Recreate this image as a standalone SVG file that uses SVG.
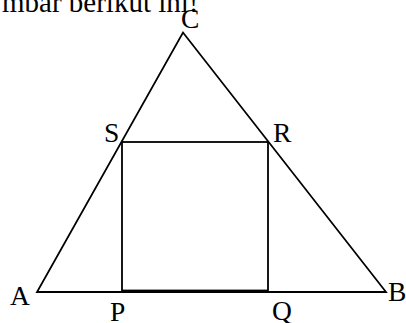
<svg xmlns="http://www.w3.org/2000/svg" width="406" height="323" viewBox="0 0 406 323">
<style>
text{font-family:"Liberation Serif","Times New Roman",serif;font-size:27.5px;fill:#000}
.ln{stroke:#000;stroke-width:1.8;fill:none}
</style>
<rect width="406" height="323" fill="#fff"/>
<text x="2" y="12" style="font-size:29px">mbar berikut ini!</text>
<g id="connectors">
<polygon class="ln" points="37,292 386,292 183,32.5" stroke-linejoin="miter"/>
<rect id="square" class="ln" x="122" y="142" width="146" height="148.5"/>
</g>
<g id="A"><text x="10" y="305">A</text></g>
<g id="B"><text x="388" y="301">B</text></g>
<g id="C"><text x="181" y="28">C</text></g>
<g id="S"><text x="104" y="142">S</text></g>
<g id="R"><text x="273" y="142">R</text></g>
<g id="P"><text x="110" y="321">P</text></g>
<g id="Q"><text x="272" y="320">Q</text></g>
</svg>
